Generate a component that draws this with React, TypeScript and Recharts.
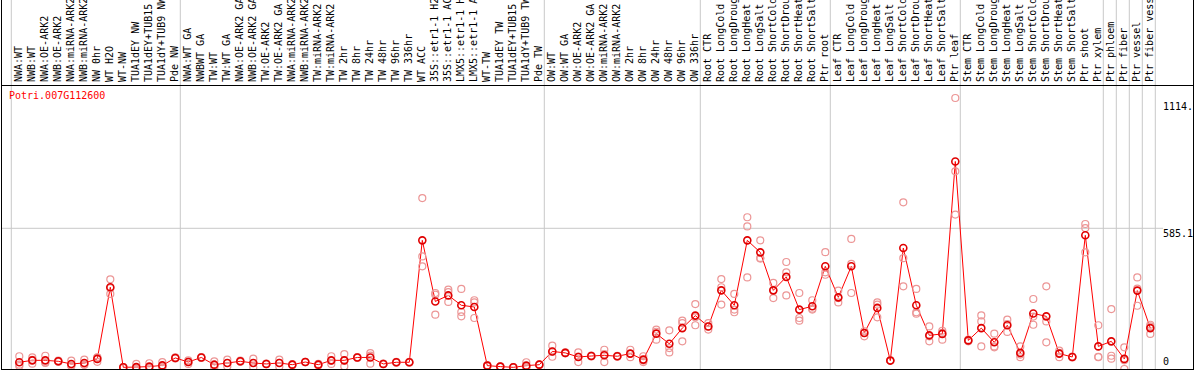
import { ComposedChart, Line, XAxis, YAxis, ReferenceLine } from 'recharts'

const geneName = 'Potri.007G112600'

const labels = [
  'NWA:WT', 'NWB:WT', 'NWA:OE-ARK2', 'NWB:OE-ARK2', 'NWA:miRNA-ARK2', 'NWB:miRNA-ARK2',
  'NW 0hr', 'WT H2O', 'WT-NW', 'TUA1dEY NW', 'TUA1dEY+TUB15 NW', 'TUA1dY+TUB9 NW', 'Pde NW',
  'NWA:WT GA', 'NWBWT GA', 'TW:WT', 'TW:WT GA', 'NWA:OE-ARK2 GA', 'NWB:OE-ARK2 GA',
  'TW:OE-ARK2', 'TW:OE-ARK2 GA', 'NWA:miRNA-ARK2', 'NWB:miRNA-ARK2', 'TW:miRNA-ARK2',
  'TW:miRNA-ARK2', 'TW 2hr', 'TW 8hr', 'TW 24hr', 'TW 48hr', 'TW 96hr', 'TW 336hr',
  'WT ACC', '35S::etr1-1 H2O', '35S::etr1-1 ACC', 'LMX5::etr1-1 H2O', 'LMX5::etr1-1 ACC',
  'WT-TW', 'TUA1dEY TW', 'TUA1dEY+TUB15 TW', 'TUA1dY+TUB9 TW', 'Pde TW',
  'OW:WT', 'OW:WT GA', 'OW:OE-ARK2', 'OW:OE-ARK2 GA', 'OW:miRNA-ARK2', 'OW:miRNA-ARK2',
  'OW 2hr', 'OW 8hr', 'OW 24hr', 'OW 48hr', 'OW 96hr', 'OW 336hr',
  'Root CTR', 'Root LongCold', 'Root LongDrought', 'Root LongHeat', 'Root LongSalt',
  'Root ShortCold', 'Root ShortDrought', 'Root ShortHeat', 'Root ShortSalt', 'Ptr root',
  'Leaf CTR', 'Leaf LongCold', 'Leaf LongDrought', 'Leaf LongHeat', 'Leaf LongSalt',
  'Leaf ShortCold', 'Leaf ShortDrought', 'Leaf ShortHeat', 'Leaf ShortSalt', 'Ptr leaf',
  'Stem CTR', 'Stem LongCold', 'Stem LongDrought', 'Stem LongHeat', 'Stem LongSalt',
  'Stem ShortCold', 'Stem ShortDrought', 'Stem ShortHeat', 'Stem ShortSalt', 'Ptr shoot',
  'Ptr xylem', 'Ptr phloem', 'Ptr fiber', 'Ptr vessel', 'Ptr fiber vessel',
]

const meanVals = [
  28, 36, 36, 32, 21, 25, 42, 340, 7, 8, 10, 15, 46,
  29, 48, 18, 25, 32, 25, 21, 25, 18, 29, 18, 36, 36, 48, 48, 21, 28, 28,
  535, 281, 306, 265, 258, 14, 10, 7, 14, 18,
  73, 67, 50, 54, 57, 53, 64, 39, 147, 105, 170, 222,
  177, 327, 265, 535, 485, 327, 383, 247, 261, 427,
  298, 427, 150, 254, 35, 503, 265, 140, 146, 863,
  119, 170, 111, 182, 67, 231, 219, 64, 50, 556,
  94, 115, 42, 326, 170,
]

const rep1 = [
  53, 48, 55, 35, 35, 39, 48, 373, 5, 21, 24, 29, 48,
  36, 50, 32, 39, 35, 43, 22, 39, 20, 30, 21, 53, 62, 50, 66, 22, 30, 30,
  711, 316, 330, 333, 286, 16, 11, 8, 28, 19,
  97, 69, 69, 56, 80, 55, 80, 53, 164, 161, 201, 270,
  191, 374, 312, 631, 535, 358, 445, 316, 286, 486,
  326, 541, 157, 277, 36, 693, 333, 177, 159, 1127,
  122, 223, 147, 205, 94, 291, 344, 76, 52, 603,
  182, 249, 90, 381, 184,
]

const rep2 = [
  18, 22, 25, 30, 14, 18, 30, 312, 8, 3, 4, 10, 44,
  21, 46, 7, 11, 30, 7, 20, 10, 16, 28, 15, 21, 11, 46, 22, 20, 26, 26,
  468, 309, 320, 237, 277, 12, 9, 6, 7, 17,
  51, 65, 29, 52, 29, 51, 49, 29, 122, 69, 191, 182,
  164, 340, 247, 593, 459, 295, 402, 212, 247, 402,
  277, 437, 136, 268, 34, 461, 236, 115, 122, 822,
  115, 198, 90, 154, 49, 184, 198, 49, 48, 586,
  49, 55, 0, 263, 146,
]

const rep3 = [
  12, 38, 28, 31, 14, 18, 47, 336, 8, 0, 2, 6, 46,
  30, 48, 15, 25, 31, 25, 21, 26, 18, 29, 18, 34, 35, 48, 56, 21, 28, 28,
  427, 226, 279, 219, 212, 14, 10, 7, 7, 18,
  72, 67, 52, 54, 62, 53, 63, 35, 155, 87, 115, 215,
  177, 268, 236, 381, 462, 328, 306, 201, 251, 392,
  295, 316, 150, 215, 35, 344, 230, 136, 150, 642,
  119, 94, 94, 187, 60, 218, 111, 67, 50, 485,
  51, 43, 36, 334, 177,
]

// last sample index of each group (-1 = left edge)
const groupEnds = [-1, 12, 40, 52, 62, 72, 83, 84, 85, 86, 87]

const yTicks = [0, 585.1, 1114.4]
const gridValue = 585.1

const rows = labels.map((name, i) => ({
  idx: i,
  name,
  mean: meanVals[i],
  r1: rep1[i],
  r2: rep2[i],
  r3: rep3[i],
}))

const mono = '"DejaVu Sans Mono", monospace'
const repColor = '#ec9696'
const sepColor = '#c8c8c8'

function LabelTick({ x, payload }: any) {
  return (
    <text
      transform={`translate(${x + 3},82) rotate(-90)`}
      fontSize={10}
      fontFamily={mono}
      fill="#000"
      textAnchor="start"
    >
      {labels[payload.value]}
    </text>
  )
}

function ValueTick({ x, y, payload }: any) {
  const v = payload.value
  return (
    <g>
      {v === gridValue && <line x1={x - 6} x2={x} y1={y} y2={y} stroke={sepColor} />}
      <text x={x} y={v === 0 ? y - 4 : y + 9} fontSize={10} fontFamily={mono} fill="#000" textAnchor="start">
        {String(v).slice(0, 5)}
      </text>
    </g>
  )
}

const repDot = { r: 3.5, stroke: repColor, strokeWidth: 1.2, fill: 'none' }

export default function App() {
  return (
    <div style={{ position: 'absolute', left: 0, top: 0, width: 1194, height: 370, background: '#fff' }}>
      <ComposedChart width={1194} height={370} data={rows} margin={{ top: 0, right: 1, bottom: 1, left: 1 }}>
        <XAxis
          dataKey="idx"
          type="number"
          orientation="top"
          mirror
          domain={[-1.408, 87.515]}
          allowDataOverflow
          ticks={rows.map((r) => r.idx)}
          interval={0}
          axisLine={false}
          tickLine={false}
          tick={(p: any) => <LabelTick {...p} />}
        />
        <YAxis
          orientation="right"
          width={36}
          domain={[0, 1534.5]}
          allowDataOverflow
          ticks={yTicks}
          interval={0}
          tickSize={0}
          tickMargin={6}
          axisLine={false}
          tickLine={false}
          tick={(p: any) => <ValueTick {...p} />}
        />
        {groupEnds.map((g) => (
          <ReferenceLine key={g} x={g + 0.385} stroke={sepColor} />
        ))}
        <ReferenceLine y={gridValue} stroke={sepColor} />
        <Line dataKey="r1" stroke="none" dot={repDot} activeDot={false} isAnimationActive={false} />
        <Line dataKey="r2" stroke="none" dot={repDot} activeDot={false} isAnimationActive={false} />
        <Line dataKey="r3" stroke="none" dot={repDot} activeDot={false} isAnimationActive={false} />
        <Line
          type="linear"
          dataKey="mean"
          stroke="#ff0000"
          strokeWidth={1}
          dot={{ r: 3.5, stroke: '#e00000', strokeWidth: 1.6, fill: 'none' }}
          activeDot={false}
          isAnimationActive={false}
        />
      </ComposedChart>
      {/* frame */}
      <div
        style={{
          position: 'absolute',
          left: 1,
          top: 0,
          width: 1193,
          height: 370,
          boxSizing: 'border-box',
          borderLeft: '1px solid #000',
          borderRight: '1px solid #000',
          borderBottom: '1px solid #000',
          pointerEvents: 'none',
        }}
      />
      <div style={{ position: 'absolute', left: 1, top: 85, width: 1193, height: 1, background: '#000' }} />
      <div
        style={{
          position: 'absolute',
          left: 9,
          top: 91,
          fontFamily: mono,
          fontSize: 10,
          lineHeight: '10px',
          color: '#ff0000',
        }}
      >
        {geneName}
      </div>
    </div>
  )
}
